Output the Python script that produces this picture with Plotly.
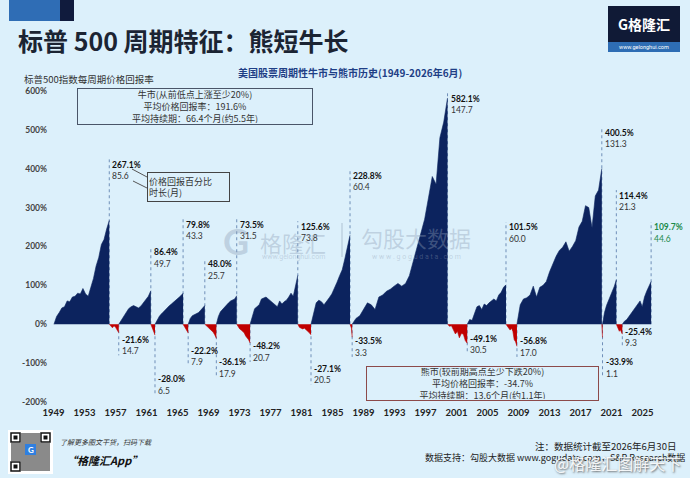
import numpy as np
import pandas as pd
import plotly.graph_objects as go

BG = '#dcf0fb'
NAVY = '#0c235e'
RED = '#c00000'
GREEN = '#1b8a4a'
CJK = 'Noto Sans CJK SC'
NUM = 'Lato'

# cycle boundaries (bull / bear alternating)
starts = ['1949-06-13', '1956-08-02', '1957-10-22', '1961-12-12', '1962-06-26', '1966-02-09',
          '1966-10-07', '1968-11-29', '1970-05-26', '1973-01-11', '1974-10-03', '1980-11-28',
          '1982-08-12', '1987-08-25', '1987-12-04', '2000-03-24', '2002-10-09', '2007-10-09',
          '2009-03-09', '2020-02-19', '2020-03-23', '2022-01-03', '2022-10-12']
ends = starts[1:] + ['2026-06-30']
returns = [267.1, -21.6, 86.4, -28.0, 79.8, -22.2, 48.0, -36.1, 73.5, -48.2, 125.6, -27.1,
           228.8, -33.5, 582.1, -49.1, 101.5, -56.8, 400.5, -33.9, 114.4, -25.4, 109.7]
months = [85.6, 14.7, 49.7, 6.5, 43.3, 7.9, 25.7, 17.9, 31.5, 20.7, 73.8, 20.5,
          60.4, 3.3, 147.7, 30.5, 60.0, 17.0, 131.3, 1.1, 21.3, 9.3, 44.6]

# cumulative price return within each cycle (%)
paths = [
    [0, 20, 30, 42, 45, 60, 58, 70, 72, 80, 78, 92, 78, 72, 95, 118, 150, 172, 205, 218, 245, 267.1],
    [0, -6, -9, -4, -8, -15, -21.6],
    [0, 10, 20, 32, 40, 45, 48, 45, 42, 47, 55, 62, 72, 86.4],
    [0, -5, -8, -14, -22, -28.0],
    [0, 12, 22, 28, 35, 42, 47, 52, 57, 62, 67, 73, 79.8],
    [0, -5, -9, -13, -18, -22.2],
    [0, 15, 22, 25, 27, 30, 36, 42, 48.0],
    [0, -5, -8, -12, -15, -20, -27, -36.1],
    [0, 20, 32, 38, 45, 50, 55, 60, 62, 65, 73.5],
    [0, -8, -12, -15, -18, -22, -30, -35, -40, -48.2],
    [0, 20, 40, 45, 50, 65, 68, 70, 65, 60, 55, 48, 45, 60, 52, 58, 62, 70, 80, 72, 100, 125.6],
    [0, -8, -10, -12, -10, -15, -18, -22, -27.1],
    [0, 30, 55, 62, 58, 50, 58, 68, 78, 92, 108, 125, 140, 168, 195, 228.8],
    [0, -5, -10, -33.5],
    [0, 15, 22, 40, 55, 50, 38, 70, 75, 85, 90, 98, 105, 98, 105, 125, 160, 195, 235, 270,
     325, 380, 360, 480, 520, 582.1],
    [0, -5, -4, -13, -25, -18, -35, -24, -25, -42, -49.1],
    [0, 12, 10, 28, 45, 48, 38, 52, 48, 55, 60, 65, 60, 75, 82, 95, 101.5],
    [0, -6, -12, -15, -10, -18, -40, -45, -56.8],
    [0, 50, 65, 68, 75, 98, 70, 95, 100, 110, 135, 155, 175, 190, 198, 212, 188, 200, 215,
     250, 265, 305, 300, 248, 330, 345, 400.5],
    [0, -12, -33.9],
    [0, 30, 48, 60, 72, 85, 98, 114.4],
    [0, -5, -12, -18, -14, -20, -25.4],
    [0, 8, 12, 20, 28, 35, 42, 52, 60, 45, 70, 85, 98, 109.7],
]

# height of the return label of each cycle (% axis units)
label_y = [410, -40, 185, -142, 256, -68, 154, -98, 256, -57, 251, -115,
           382, -44, 580, -37, 249, -44, 492, -98, 331, -19, 249]

year_ticks = list(range(1949, 2026, 4))
y_ticks = [-200, -100, 0, 100, 200, 300, 400, 500, 600]


def px(x, y):
    # pixel position in the 690x478 picture -> paper coords
    return (x - 48) / 614, (405 - y) / 320


fig = go.Figure()
shapes = []
annots = []

for i in range(len(starts)):
    vals = paths[i]
    xs = pd.date_range(starts[i], ends[i], periods=len(vals))
    bull = returns[i] > 0
    col = NAVY if bull else RED
    fig.add_trace(go.Scatter(x=xs, y=vals, mode='lines', fill='tozeroy',
                             line=dict(color=col, width=0.6), fillcolor=col,
                             hoverinfo='skip', showlegend=False))
    # dotted marker line
    top = label_y[i] + 14 if bull else label_y[i] - 40
    shapes.append(dict(type='line', xref='x', yref='y', x0=ends[i], x1=ends[i], y0=0, y1=top,
                       line=dict(color='#6f8fb8', width=1, dash='dot'), layer='below'))
    last = i == len(starts) - 1
    c1 = GREEN if last else '#111111'
    c2 = GREEN if last else '#333333'
    annots.append(dict(x=ends[i], y=label_y[i], xref='x', yref='y', xanchor='left', xshift=1,
                       text='<b>%.1f%%</b>' % returns[i], showarrow=False,
                       font=dict(family=NUM, size=8.5, color=c1)))
    annots.append(dict(x=ends[i], y=label_y[i] - 29, xref='x', yref='y', xanchor='left', xshift=1,
                       text='%.1f' % months[i], showarrow=False,
                       font=dict(family=NUM, size=8.5, color=c2)))


def rect(x0, y0, x1, y1, fill, line=None, lw=0):
    a, b = px(x0, y0)
    c, d = px(x1, y1)
    shapes.append(dict(type='rect', xref='paper', yref='paper', x0=a, y0=b, x1=c, y1=d,
                       fillcolor=fill, line=dict(color=line or fill, width=lw), layer='above'))


def seg(x0, y0, x1, y1, color, w=1):
    a, b = px(x0, y0)
    c, d = px(x1, y1)
    shapes.append(dict(type='line', xref='paper', yref='paper', x0=a, y0=b, x1=c, y1=d,
                       line=dict(color=color, width=w)))


def text(x, y, s, size, color='#222', anchor='center', family=CJK, **kw):
    a, b = px(x, y)
    d = dict(x=a, y=b, xref='paper', yref='paper', text=s, showarrow=False, xanchor=anchor,
             yanchor='middle', font=dict(family=family, size=size, color=color))
    d.update(kw)
    annots.append(d)


def box(cx, cy, s, w, h, border, align='center'):
    a, b = px(cx, cy)
    annots.append(dict(x=a, y=b, xref='paper', yref='paper', showarrow=False, text=s,
                       xanchor='center', yanchor='middle',
                       font=dict(family=CJK, size=9, color='#333333'), align=align,
                       width=w, height=h, bordercolor=border, borderwidth=1, borderpad=1,
                       bgcolor=BG))


# header
rect(9, 0, 60, 21, '#2f6db5')
rect(60, 0, 74, 21, '#101b3d')
text(16, 40, '<b>标普 500 周期特征：熊短牛长</b>', 25, '#1b2433', 'left')
rect(608, 6, 680, 42, '#101a36')
rect(608, 42, 680, 52, '#2e6db4')
text(644, 24, '<b>G格隆汇</b>', 14, '#ffffff')
text(644, 47, 'www.gelonghui.com', 5.5, '#ffffff', family='Roboto')
text(22, 79, '标普500指数每周期价格回报率', 9.5, '#333333', 'left')
text(350, 73, '<b>美国股票周期性牛市与熊市历史(1949-2026年6月)</b>', 10, '#1f3f86')

# watermarks in the middle
wm = 'rgba(140,158,182,0.38)'
text(236, 241, '<b>G</b>', 36, wm, family=NUM)
text(293, 242, '格隆汇', 22, wm)
text(293, 257, 'www.gelonghui.com', 7, wm, family='Roboto')
seg(342, 223, 342, 257, wm, 1.5)
text(416, 237, '勾股大数据', 22, wm)
text(416, 257, 'w w w . g o g u d a t a . c o m', 7, wm, family='Roboto')

# boxes
box(195, 106.5, '牛市(从前低点上涨至少20%)<br>平均价格回报率：191.6%<br>平均持续期：66.4个月(约5.5年)',
    232, 33, '#4a5568')
box(482.5, 383.5, '熊市(较前期高点至少下跌20%)<br>平均价格回报率：-34.7%<br>平均持续期：13.6个月(约1.1年)',
    229, 31, '#8c4a4a')
box(188.5, 187, '价格回报百分比<br>时长(月)', 79, 26, '#444444', 'left')
seg(132, 169, 147, 177, '#555555')
seg(133, 181, 147, 188, '#555555')

# footer
rect(8, 430, 53, 474, '#ffffff')
rect(11, 433, 50, 471, '#8a8a8a')
for fx, fy in [(10, 432), (40, 432), (10, 461)]:
    rect(fx, fy, fx + 11, fy + 11, '#ffffff')
    rect(fx + 1, fy + 1, fx + 10, fy + 10, '#ffffff', '#111111', 1.5)
    rect(fx + 3.5, fy + 3.5, fx + 7.5, fy + 7.5, '#111111')
rect(25, 444, 36, 455, '#2f7fe0')
text(30.5, 449.5, '<b>G</b>', 8, '#ffffff', family=NUM)
text(58, 442, '<i>了解更多图文干货，扫码下载</i>', 7, '#333333', 'left')
text(64, 460, '<b><i>“格隆汇App”</i></b>', 11, '#111111', 'left')
text(678, 446, '注：数据统计截至2026年6月30日', 9.5, '#222222', 'right')
text(423, 457, '数据支持：勾股大数据 www.gogudata.com，S&P Research数据', 9, '#222222', 'left')
text(683, 463, '@格隆汇图解天下', 16, 'rgba(255,255,255,0.9)', 'right')
annots[-1]['font']['shadow'] = '1px 1px 2px #555'

fig.update_layout(
    width=690, height=478,
    margin=dict(l=48, r=28, t=85, b=73, autoexpand=False),
    paper_bgcolor=BG, plot_bgcolor=BG,
    shapes=shapes, annotations=annots,
    showlegend=False,
)
fig.update_xaxes(type='date', range=['1948-09-05', '2027-11-25'],
                 tickvals=['%d-05-25' % y for y in year_ticks], ticktext=[str(y) for y in year_ticks],
                 showgrid=False, zeroline=False, showline=False, ticks='',
                 tickfont=dict(family=NUM, size=9.5, color='#222222', weight='bold'))
fig.update_yaxes(range=[-207.7, 615.4], tickvals=y_ticks, ticktext=['%d%%' % v for v in y_ticks],
                 showgrid=False, zeroline=False, showline=False, ticks='',
                 tickfont=dict(family=NUM, size=8.5, color='#444444', weight='bold'))

fig.write_html("out.html", config={'displayModeBar': False},
               post_script="document.body.style.margin='0';")
